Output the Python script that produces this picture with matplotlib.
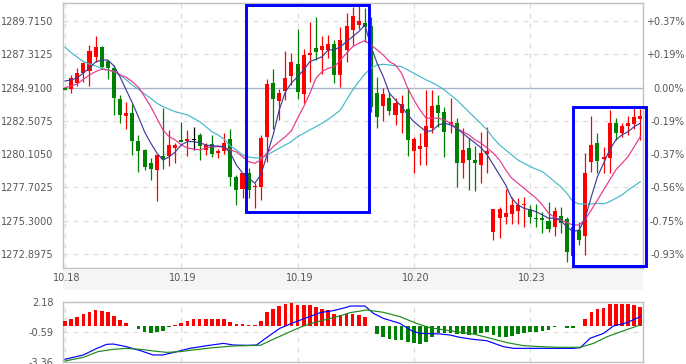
import matplotlib
matplotlib.use("Agg")
import matplotlib.pyplot as plt
from matplotlib.patches import Rectangle

# ---------------- data ----------------
opens = [1284.91, 1284.82, 1285.23, 1285.95, 1286.14, 1287.15, 1287.83, 1286.84, 1286.31, 1284.09,
         1282.86, 1283.06, 1281.06, 1280.41, 1279.46, 1278.96, 1279.97, 1279.97, 1280.53, 1281.13,
         1281.06, 1281.16, 1281.49, 1280.41, 1280.84, 1280.21, 1280.35, 1281.20, 1278.45, 1277.61,
         1278.74, 1277.71, 1277.75, 1281.34, 1285.27, 1283.95, 1284.69, 1285.76, 1286.60, 1284.45,
         1287.27, 1287.76, 1287.64, 1287.64, 1288.07, 1285.83, 1287.64, 1289.08, 1289.44, 1289.61,
         1289.37, 1284.55, 1283.59, 1284.14, 1282.94, 1283.10, 1283.35, 1280.35, 1280.46, 1280.64,
         1281.97, 1283.66, 1283.17, 1282.28, 1282.38, 1279.44, 1280.55, 1279.68, 1279.32, 1280.12,
         1274.50, 1275.47, 1275.54, 1275.78, 1276.02, 1276.43, 1276.12, 1275.49, 1275.47, 1275.29,
         1274.86, 1275.63, 1275.40, 1272.74, 1274.62, 1274.19, 1279.56, 1280.93, 1279.73, 1279.80,
         1282.34, 1281.61, 1282.14, 1282.28, 1282.67]
highs = [1284.94, 1285.83, 1286.33, 1286.79, 1288.00, 1288.65, 1287.92, 1286.91, 1286.55, 1284.38,
         1283.90, 1283.73, 1281.49, 1280.48, 1279.83, 1280.04, 1283.44, 1281.85, 1280.91, 1282.45,
         1281.85, 1282.09, 1281.63, 1280.93, 1281.49, 1280.48, 1281.63, 1281.92, 1278.60, 1278.74,
         1279.10, 1278.02, 1281.49, 1285.52, 1286.24, 1284.79, 1287.58, 1287.40, 1289.13, 1287.69,
         1289.66, 1290.00, 1288.65, 1288.72, 1288.36, 1289.28, 1290.29, 1290.77, 1290.96, 1290.65,
         1290.04, 1285.70, 1284.87, 1284.62, 1284.14, 1284.38, 1284.89, 1281.37, 1281.63, 1284.74,
         1284.74, 1284.38, 1283.54, 1284.14, 1282.72, 1281.99, 1281.27, 1280.69, 1281.73, 1282.09,
         1276.14, 1276.26, 1277.56, 1277.03, 1276.91, 1277.03, 1276.43, 1276.50, 1275.94, 1276.67,
         1276.26, 1276.31, 1275.54, 1275.15, 1275.22, 1280.17, 1282.86, 1281.66, 1280.64, 1283.30,
         1282.70, 1282.38, 1282.86, 1283.59, 1283.35]
lows = [1284.74, 1284.55, 1285.03, 1285.34, 1285.03, 1286.79, 1286.24, 1285.52, 1282.94, 1282.38,
        1281.90, 1280.04, 1278.81, 1278.96, 1278.24, 1276.72, 1279.03, 1279.25, 1279.46, 1280.98,
        1279.97, 1280.41, 1279.68, 1280.04, 1279.90, 1279.83, 1280.12, 1277.80, 1276.43, 1276.93,
        1276.93, 1276.21, 1276.79, 1279.56, 1281.90, 1282.57, 1284.02, 1285.10, 1284.09, 1283.82,
        1285.30, 1286.91, 1285.90, 1287.03, 1285.27, 1284.98, 1286.79, 1288.00, 1289.13, 1288.24,
        1283.17, 1281.97, 1282.52, 1282.94, 1282.21, 1281.66, 1279.97, 1278.72, 1279.32, 1279.32,
        1281.61, 1282.09, 1279.92, 1281.61, 1277.75, 1278.38, 1277.51, 1277.46, 1278.04, 1278.76,
        1273.90, 1274.02, 1275.05, 1275.05, 1275.05, 1274.86, 1275.11, 1274.82, 1274.38, 1274.50,
        1274.19, 1274.38, 1272.33, 1272.57, 1273.54, 1272.81, 1278.84, 1278.72, 1278.72, 1278.76,
        1281.13, 1281.37, 1281.49, 1281.90, 1281.13]
closes = [1284.76, 1285.61, 1285.99, 1286.72, 1287.58, 1287.85, 1286.43, 1286.36, 1284.19, 1282.94,
          1283.06, 1281.06, 1280.33, 1279.20, 1279.03, 1280.04, 1279.73, 1280.77, 1280.77, 1281.00,
          1281.20, 1281.16, 1280.69, 1280.77, 1280.12, 1280.33, 1280.91, 1278.45, 1277.51, 1278.74,
          1277.51, 1277.80, 1281.27, 1285.18, 1284.09, 1284.50, 1285.59, 1286.75, 1284.62, 1287.27,
          1287.44, 1287.51, 1287.95, 1288.07, 1285.83, 1288.36, 1289.37, 1290.09, 1289.75, 1289.32,
          1283.54, 1282.77, 1284.45, 1283.25, 1283.82, 1283.73, 1281.13, 1281.18, 1280.69, 1282.14,
          1283.59, 1283.06, 1281.73, 1282.45, 1279.44, 1280.41, 1279.68, 1279.44, 1280.19, 1280.33,
          1276.12, 1276.12, 1275.83, 1276.43, 1276.43, 1276.50, 1275.54, 1275.40, 1275.34, 1274.67,
          1276.02, 1275.11, 1273.05, 1274.86, 1273.90, 1278.76, 1280.77, 1279.63, 1279.88, 1282.34,
          1281.66, 1282.14, 1282.34, 1282.77, 1282.86]

ma_fast = [1285.39, 1285.47, 1285.61, 1285.97, 1286.33, 1286.77, 1286.91, 1286.91, 1286.48, 1285.68,
           1284.74, 1283.80, 1282.79, 1281.71, 1280.91, 1280.19, 1279.68, 1279.90, 1280.26, 1280.77,
           1281.01, 1281.01, 1280.93, 1280.77, 1280.69, 1280.69, 1280.64, 1280.19, 1279.32, 1278.74,
           1278.38, 1278.00, 1278.60, 1280.04, 1281.49, 1283.30, 1284.60, 1285.25, 1285.71, 1286.19,
           1286.79, 1286.96, 1287.15, 1287.64, 1287.64, 1287.87, 1288.24, 1288.60, 1288.96, 1289.44,
           1287.87, 1286.67, 1285.71, 1284.50, 1284.02, 1283.54, 1282.94, 1282.45, 1282.09, 1281.73,
           1281.80, 1282.21, 1282.34, 1282.21, 1281.97, 1281.61, 1281.25, 1280.91, 1280.55, 1280.04,
           1279.32, 1278.60, 1277.87, 1276.91, 1276.43, 1276.19, 1276.07, 1275.94, 1275.71, 1275.47,
           1275.47, 1275.29, 1274.86, 1274.50, 1274.62, 1275.47, 1277.03, 1278.48, 1279.44, 1280.41,
           1281.13, 1281.49, 1281.73, 1282.09, 1282.34]
ma_mid = [1284.91, 1285.03, 1285.18, 1285.52, 1285.83, 1286.07, 1286.24, 1286.19, 1286.07, 1285.83,
          1285.66, 1285.34, 1284.94, 1284.26, 1283.54, 1282.70, 1281.85, 1281.37, 1281.13, 1280.77,
          1280.55, 1280.48, 1280.41, 1280.55, 1280.64, 1280.64, 1280.60, 1280.41, 1280.26, 1279.92,
          1279.56, 1279.44, 1279.68, 1280.17, 1280.64, 1281.01, 1281.37, 1281.80, 1282.70, 1283.54,
          1284.50, 1285.59, 1286.07, 1286.31, 1286.43, 1286.91, 1287.40, 1287.87, 1288.12, 1288.31,
          1288.00, 1287.64, 1287.27, 1286.79, 1286.55, 1285.95, 1284.87, 1284.02, 1283.30, 1282.70,
          1282.70, 1282.70, 1282.57, 1282.34, 1281.97, 1281.73, 1281.49, 1281.13, 1280.89, 1280.53,
          1280.17, 1279.68, 1278.96, 1278.36, 1278.00, 1277.64, 1277.27, 1276.91, 1276.43, 1275.83,
          1275.54, 1275.34, 1275.15, 1274.98, 1274.98, 1275.39, 1276.07, 1276.79, 1277.51, 1278.24,
          1278.96, 1279.44, 1279.92, 1280.64, 1281.37]
ma_slow = [1287.83, 1287.44, 1287.11, 1286.79, 1286.62, 1286.48, 1286.31, 1286.19, 1286.07, 1285.83,
           1285.47, 1285.10, 1284.79, 1284.45, 1284.14, 1283.78, 1283.54, 1283.35, 1283.17, 1283.06,
           1282.94, 1282.70, 1282.45, 1282.09, 1281.73, 1281.49, 1281.18, 1280.69, 1280.41, 1280.04,
           1279.90, 1279.83, 1279.83, 1280.04, 1280.28, 1280.53, 1280.77, 1281.01, 1281.37, 1281.61,
           1281.85, 1282.09, 1282.34, 1282.62, 1282.94, 1283.30, 1284.02, 1284.74, 1285.34, 1285.90,
           1286.31, 1286.55, 1286.60, 1286.55, 1286.48, 1286.43, 1286.19, 1285.95, 1285.71, 1285.47,
           1285.27, 1285.03, 1284.74, 1284.38, 1284.02, 1283.59, 1283.15, 1282.72, 1282.29, 1281.85,
           1281.25, 1280.77, 1280.41, 1280.04, 1279.68, 1279.44, 1279.20, 1279.01, 1278.84, 1278.48,
           1278.11, 1277.75, 1277.27, 1276.67, 1276.50, 1276.50, 1276.50, 1276.55, 1276.50, 1276.67,
           1276.91, 1277.15, 1277.51, 1277.80, 1278.11]

macd_hist = [0.43, 0.58, 0.80, 1.05, 1.26, 1.45, 1.35, 1.29, 0.92, 0.52,
             0.28, -0.03, -0.31, -0.62, -0.71, -0.55, -0.46, -0.15, 0.03, 0.28,
             0.43, 0.58, 0.61, 0.61, 0.58, 0.61, 0.61, 0.36, 0.15, 0.15,
             0.03, 0.03, 0.43, 1.23, 1.54, 1.78, 2.00, 2.09, 1.87, 1.94,
             1.94, 1.75, 1.57, 1.45, 1.05, 1.02, 1.04, 1.04, 0.98, 0.76,
             -0.02, -0.78, -1.02, -1.26, -1.33, -1.33, -1.48, -1.64, -1.70, -1.48,
             -1.02, -0.71, -0.65, -0.65, -0.78, -0.81, -0.87, -0.81, -0.65, -0.56,
             -0.87, -1.08, -1.08, -0.96, -0.78, -0.65, -0.62, -0.56, -0.46, -0.40,
             -0.15, -0.05, -0.25, -0.19, -0.05, 0.58, 1.23, 1.50, 1.66, 2.00,
             2.00, 2.00, 2.00, 1.87, 1.75]

dif_idx = [0, 3, 5.2, 6.8, 7.9, 10, 12.3, 14.4, 16, 18.3, 20.4, 23.2, 25.9, 27.5, 29.7, 31.3, 33,
           35.1, 37.3, 39.5, 41.7, 43.8, 46, 46.6, 49, 50.4, 52, 54.7, 56.9, 58, 61.3, 62.9, 64.5,
           66.7, 68.9, 71.6, 73.3, 77.6, 83, 84.2, 85.8, 88, 89.6, 91.8, 94]
dif_val = [-3.11, -2.71, -2.10, -1.73, -1.70, -1.94, -2.31, -2.71, -2.71, -2.40, -2.10, -1.85, -1.64,
           -1.79, -1.82, -1.79, -1.08, -0.25, 0.27, 0.73, 1.20, 1.38, 1.69, 1.81, 1.81, 1.13, 0.67,
           0.21, -0.56, -0.71, -0.77, -0.87, -1.08, -1.27, -1.39, -1.94, -2.10, -2.10, -2.10, -2.04,
           -1.17, -0.71, -0.04, 0.27, 0.83]
dea_idx = [0, 3, 5.4, 7.9, 10, 12.3, 14.4, 16.6, 18.8, 20.9, 24.2, 27.5, 31.9, 34, 36.2, 38.4, 40.6,
           42.8, 44.9, 46.6, 49.3, 52, 54.7, 57.4, 59.6, 61.3, 64, 66.7, 69.5, 72.2, 74.9, 77.6, 80.4,
           84.2, 86.4, 88.6, 91.3, 94]
dea_val = [-3.27, -2.93, -2.40, -2.19, -2.10, -2.19, -2.34, -2.47, -2.40, -2.25, -2.04, -1.88, -1.82,
           -1.27, -0.71, -0.16, 0.27, 0.58, 0.89, 1.20, 1.44, 1.23, 0.83, 0.21, -0.19, -0.34, -0.56,
           -0.77, -1.17, -1.57, -1.85, -1.94, -2.00, -2.00, -1.63, -1.02, -0.47, 0.06]

prev_close = 1284.91
price_ticks = [1272.8975, 1275.3000, 1277.7025, 1280.1050, 1282.5075, 1284.9100, 1287.3125, 1289.7150]
macd_ticks = [2.18, -0.59, -3.36]
date_idx = [0, 19, 38, 57, 76]
date_labels = ["10.18", "10.19", "10.19", "10.20", "10.23"]
# highlight boxes: (start idx, end idx, low price, high price)
boxes = [(29.5, 49.7, 1275.93, 1290.86), (82.96, 94.9, 1272.05, 1283.52)]

# ---------------- style ----------------
RED = "#ff0000"
GREEN = "#008000"
GRID = "#dddddd"
TXT = "#555555"
SPINE = "#c0c0c0"
FS = 7

W, H = 686, 364
fig = plt.figure(figsize=(W / 100, H / 100), dpi=100)

def fx(px):
    return px / W

def fy(py):
    return 1 - py / H

L, R = 63, 643
ax = fig.add_axes([fx(L), fy(268), fx(R - L), fy(3) - fy(268)])
band = fig.add_axes([fx(L), fy(290), fx(R - L), fy(270) - fy(290)])
mx = fig.add_axes([fx(L), fy(362), fx(R - L), fy(302) - fy(362)])

n = len(closes)
xs = list(range(n))
xlim = (-0.33, 94.44)

# candles
for i in xs:
    o, h, l, c = opens[i], highs[i], lows[i], closes[i]
    col = RED if c > o else (GREEN if c < o else "black")
    ax.vlines(i, l, h, color=col, lw=0.9, zorder=3)
    bot = min(o, c)
    ht = max(abs(c - o), 0.06)
    ax.bar(i, ht, bottom=bot, width=0.66, color=col, lw=0, zorder=4)

ax.plot(xs, ma_slow, color="#45b8c8", lw=0.85, zorder=5)
ax.plot(xs, ma_mid, color="#e8358e", lw=0.85, zorder=5)
ax.plot(xs, ma_fast, color="#3c3c9c", lw=0.85, zorder=5)

ax.set_xlim(*xlim)
ax.set_ylim(1271.87, 1291.03)
ax.set_yticks(price_ticks)
ax.set_yticklabels(["%.4f" % t for t in price_ticks])
for t in price_ticks:
    if abs(t - prev_close) < 1e-6:
        ax.axhline(t, color="#a8b4c8", lw=1.0, zorder=1)
    else:
        ax.axhline(t, color=GRID, lw=0.9, ls=(0, (4, 4)), zorder=1)
for d in date_idx:
    ax.axvline(d, color=GRID, lw=0.9, ls=(0, (4, 4)), zorder=1)
ax.set_xticks([])
ax.tick_params(axis="y", length=0, pad=7, labelsize=FS, labelcolor=TXT)
for s in ax.spines.values():
    s.set_color(SPINE)
    s.set_linewidth(1)

axr = ax.twinx()
axr.set_ylim(ax.get_ylim())
axr.set_yticks(price_ticks)
labs = []
for t in price_ticks:
    p = (t - prev_close) / prev_close * 100
    if abs(p) < 0.005:
        labs.append("0.00%")
    elif p > 0:
        labs.append("+%.2f%%" % p)
    else:
        labs.append("-%.2f%%" % abs(p))
axr.set_yticklabels(labs)
axr.tick_params(axis="y", length=0, pad=3, labelsize=FS, labelcolor=TXT)
for lab in axr.get_yticklabels():
    lab.set_horizontalalignment("right")
    lab.set_x(1.0 + 37 / (R - L))
for s in axr.spines.values():
    s.set_visible(False)

for (a, b, lo, hi) in boxes:
    ax.add_patch(Rectangle((a, lo), b - a, hi - lo, fill=False, ec="#0000ff", lw=2.1,
                           zorder=8, clip_on=False))

# date band
band.set_facecolor("#f5f5f5")
band.set_xlim(*xlim)
band.set_ylim(0, 1)
band.set_xticks([])
band.set_yticks([])
for s in band.spines.values():
    s.set_visible(False)
for d, lab in zip(date_idx, date_labels):
    band.text(d + 0.3, 0.6, lab, ha="center", va="center", fontsize=FS, color=TXT)

# MACD panel
hcols = [RED if v >= 0 else GREEN for v in macd_hist]
mx.bar(xs, macd_hist, width=0.6, color=hcols, lw=0, zorder=3)
mx.plot(dif_idx, dif_val, color="#0000ff", lw=0.85, zorder=4)
mx.plot(dea_idx, dea_val, color="#1a8a1a", lw=0.85, zorder=4)
mx.set_xlim(*xlim)
mx.set_ylim(-3.36, 2.18)
mx.set_yticks(macd_ticks)
mx.set_yticklabels(["%.2f" % t for t in macd_ticks])
mx.axhline(macd_ticks[1], color=GRID, lw=0.9, ls=(0, (4, 4)), zorder=1)
for d in date_idx:
    mx.axvline(d, color=GRID, lw=0.9, ls=(0, (4, 4)), zorder=1)
mx.set_xticks([])
mx.tick_params(axis="y", length=0, pad=7, labelsize=FS, labelcolor=TXT)
for s in mx.spines.values():
    s.set_color(SPINE)
    s.set_linewidth(1)

fig.savefig("out.png", dpi=100)
